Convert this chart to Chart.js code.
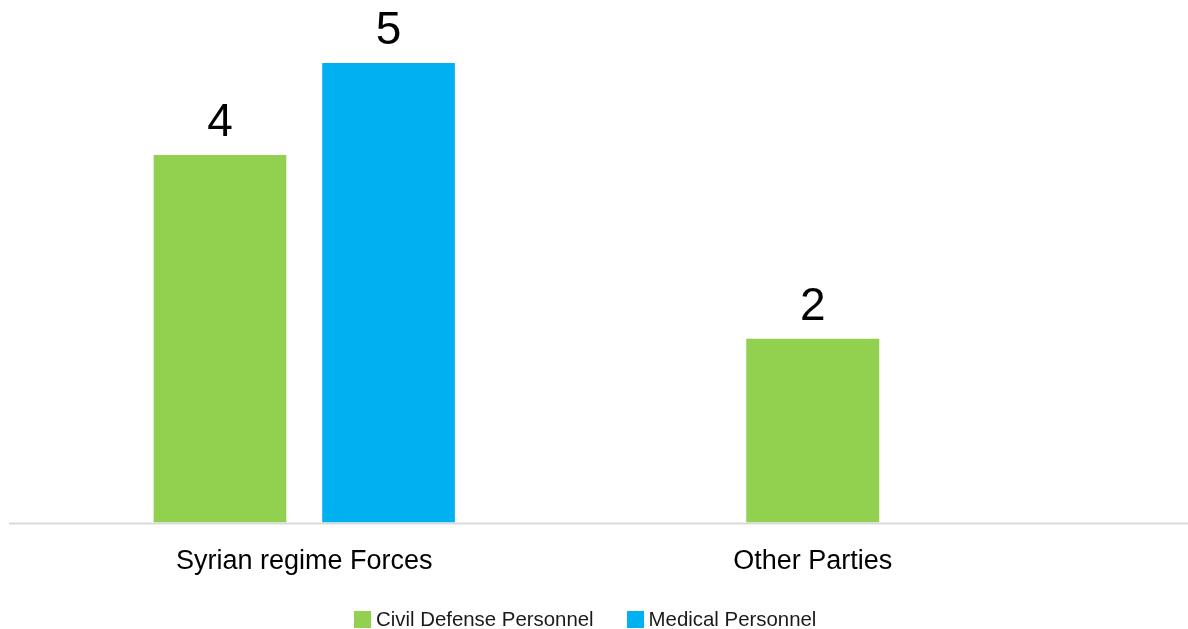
<!DOCTYPE html>
<html>
<head>
<meta charset="utf-8">
<script src="https://cdn.jsdelivr.net/npm/chart.js@4"></script>
<style>
  body { margin: 0; background: #fff; }
  #wrap { position: relative; width: 1188px; height: 629px; }
  #legend {
    position: absolute; left: 354px; top: 608px;
    display: flex; align-items: center;
    font-family: 'Liberation Sans', Arial, Helvetica, sans-serif;
    font-size: 20.4px; color: #1a1a1a;
  }
  .item { display: flex; align-items: center; margin-right: 33px; }
  .box { width: 17px; height: 17px; margin-right: 5px; }
</style>
</head>
<body>
<div id="wrap">
  <canvas id="chart"></canvas>
  <div id="legend"></div>
</div>
<script>
// Data
const categories = ['Syrian regime Forces', 'Other Parties'];
const seriesNames = ['Civil Defense Personnel', 'Medical Personnel'];
const civilDefense = [4, 2];
const medical = [5, null];
const seriesColors = ['#92D050', '#00B0F0'];

const FONT = "'Liberation Sans', Arial, Helvetica, sans-serif";

// Value labels above bars
const valueLabels = {
  id: 'valueLabels',
  afterDatasetsDraw(chart) {
    const ctx = chart.ctx;
    ctx.save();
    ctx.font = '46px ' + FONT;
    ctx.fillStyle = '#000';
    ctx.textAlign = 'center';
    ctx.textBaseline = 'alphabetic';
    chart.data.datasets.forEach((ds, i) => {
      const meta = chart.getDatasetMeta(i);
      meta.data.forEach((bar, j) => {
        const v = ds.data[j];
        if (v === null || v === undefined) return;
        ctx.fillText(String(v), bar.x, bar.y - 19);
      });
    });
    ctx.restore();
  }
};

// Baseline across the full width
const baseline = {
  id: 'baseline',
  beforeDatasetsDraw(chart) {
    const ctx = chart.ctx;
    const y = chart.scales.y.getPixelForValue(0);
    ctx.save();
    ctx.strokeStyle = '#d9d9d9';
    ctx.lineWidth = 2;
    ctx.beginPath();
    ctx.moveTo(9, y + 1);
    ctx.lineTo(chart.width, y + 1);
    ctx.stroke();
    ctx.restore();
  }
};

const ctx = document.getElementById('chart');
new Chart(ctx, {
  type: 'bar',
  data: {
    labels: categories,
    datasets: [
      { label: seriesNames[0], data: civilDefense, backgroundColor: seriesColors[0] },
      { label: seriesNames[1], data: medical, backgroundColor: seriesColors[1] }
    ]
  },
  options: {
    responsive: true,
    maintainAspectRatio: false,
    animation: false,
    datasets: {
      bar: {
        skipNull: true,
        categoryPercentage: 0.663,
        barPercentage: 0.787,
        maxBarThickness: 133
      }
    },
    layout: { padding: { top: 63, left: 50, right: 121, bottom: 28 } },
    plugins: {
      legend: { display: false },
      tooltip: { enabled: false }
    },
    scales: {
      x: {
        grid: { display: false, drawTicks: false },
        border: { display: false },
        ticks: {
          color: '#000',
          padding: 23,
          font: { family: FONT, size: 27 }
        }
      },
      y: {
        display: false,
        min: 0,
        max: 5
      }
    }
  },
  plugins: [baseline, valueLabels]
});

// Legend
const legend = document.getElementById('legend');
seriesNames.forEach((name, i) => {
  const item = document.createElement('div');
  item.className = 'item';
  const box = document.createElement('span');
  box.className = 'box';
  box.style.background = seriesColors[i];
  const txt = document.createElement('span');
  txt.textContent = name;
  item.appendChild(box);
  item.appendChild(txt);
  legend.appendChild(item);
});
</script>
</body>
</html>
